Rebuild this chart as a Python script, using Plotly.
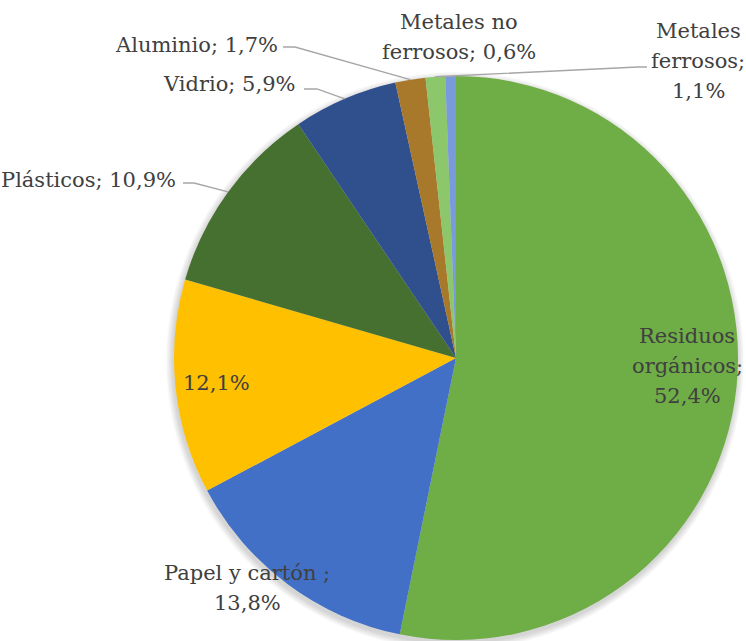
import math
import plotly.graph_objects as go

# Composición de residuos (porcentajes), en el orden de las agujas del reloj desde las 12
categorias = ["Residuos orgánicos", "Papel y cartón", "Otros", "Plásticos",
              "Vidrio", "Aluminio", "Metales ferrosos", "Metales no ferrosos"]
porcentajes = [52.4, 13.8, 12.1, 10.9, 5.9, 1.7, 1.1, 0.6]
# Nombre mostrado en cada etiqueta (con sus saltos de línea) y separador antes del valor
nombres_etiqueta = ["Residuos<br>orgánicos", "Papel y cartón ", "", "Plásticos",
                    "Vidrio", "Aluminio", "Metales<br>ferrosos", "Metales no<br>ferrosos"]
separadores = ["<br>", "<br>", "", " ", " ", " ", "<br>", " "]

colores = ["#6FAD46", "#4270C6", "#FFC000", "#46702F",
           "#304F8D", "#A8792A", "#8DC76B", "#7A9BDB"]

W, H = 746, 641
CX, CY, R = 456, 358, 282          # centro y radio del pastel, en píxeles
INTERLINEA = 30                    # separación entre líneas de una etiqueta (px)

# anclaje (px) y alineación horizontal de cada etiqueta
pos_etiquetas = [(687, 366), (247, 588), (216, 383), (178, 180),
                 (297, 84), (280, 45), (698, 61), (459, 37)]
anclajes = ["center", "center", "center", "right",
            "right", "right", "center", "center"]
# guías: punto de inicio y codo junto a la etiqueta (px); None = sin guía
guias = [None, None, None, ((183, 183), (194, 183)),
         ((304, 89), (317, 89)), ((283, 47), (295, 47)),
         ((647, 67), (638, 67)), None]

FUENTE = "DejaVu Serif"


def fmt(v):
    return f"{v:.1f}".replace(".", ",") + "%"


def px(x):
    return x / W


def py(y):
    return 1 - y / H


fig = go.Figure()

fig.add_trace(go.Pie(
    labels=categorias,
    values=porcentajes,
    sort=False,
    direction="clockwise",
    rotation=0,
    marker=dict(colors=colores, line=dict(width=0)),
    textinfo="none",
    hoverinfo="label+percent",
    domain=dict(x=[px(CX - R), px(CX + R)], y=[py(CY + R), py(CY - R)]),
    showlegend=False,
))

# sombra difusa bajo el pastel
shapes = []
for k in range(1, 8):
    rr = R + k
    shapes.append(dict(type="circle", xref="paper", yref="paper", layer="below",
                       x0=px(CX - rr - 1), x1=px(CX + rr - 1),
                       y0=py(CY + 3 + rr), y1=py(CY + 3 - rr),
                       line=dict(width=0), fillcolor="rgba(0,0,0,0.025)"))

# ángulo medio de cada porción para anclar las guías al borde
total = sum(porcentajes)
acum = 0.0
bordes = []
for v in porcentajes:
    medio = (acum + v / 2) / total * 2 * math.pi
    bordes.append((CX + R * math.sin(medio), CY - R * math.cos(medio)))
    acum += v

for g, borde in zip(guias, bordes):
    if g is None:
        continue
    (x0, y0), (x1, y1) = g
    shapes.append(dict(type="path", xref="paper", yref="paper", layer="above",
                       path=f"M {px(x0)} {py(y0)} L {px(x1)} {py(y1)} L {px(borde[0])} {py(borde[1])}",
                       line=dict(color="#A6A6A6", width=1.3)))

# etiquetas: una anotación por línea para controlar el interlineado
annotations = []
for nombre, sep, v, (x, y), anc in zip(nombres_etiqueta, separadores, porcentajes,
                                       pos_etiquetas, anclajes):
    texto = (nombre + ";" + sep + fmt(v)) if nombre else fmt(v)
    lineas = texto.split("<br>")
    n = len(lineas)
    for i, linea in enumerate(lineas):
        yy = y + (i - (n - 1) / 2) * INTERLINEA
        annotations.append(dict(text=linea, x=px(x), y=py(yy), xref="paper", yref="paper",
                                showarrow=False, xanchor=anc, yanchor="middle",
                                align="center",
                                font=dict(family=FUENTE, size=21, color="#404040")))

fig.update_layout(
    width=W, height=H,
    margin=dict(l=0, r=0, t=0, b=0),
    paper_bgcolor="white",
    plot_bgcolor="white",
    font=dict(family=FUENTE),
    shapes=shapes,
    annotations=annotations,
)

fig.write_html("out.html")
